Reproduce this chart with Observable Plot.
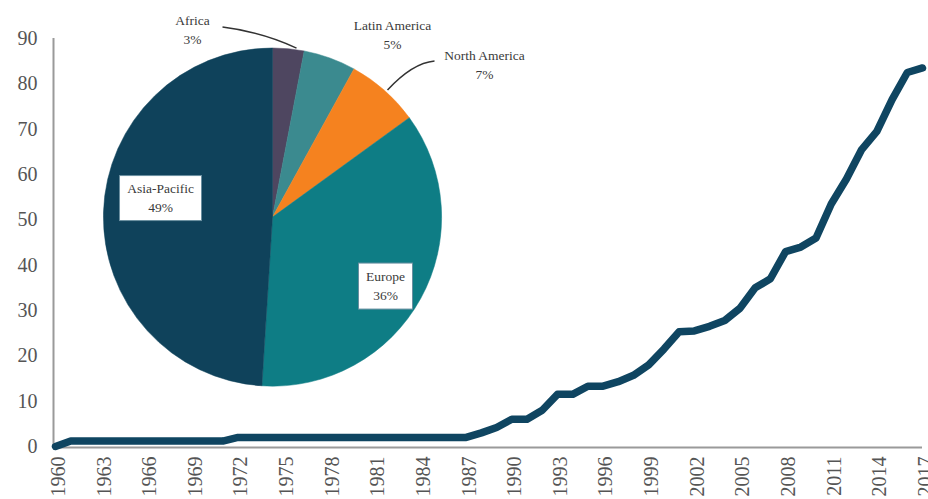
<!DOCTYPE html>
<html>
<head>
<meta charset="utf-8">
<script src="https://cdn.jsdelivr.net/npm/d3@7"></script>
<script src="https://cdn.jsdelivr.net/npm/@observablehq/plot@0.6"></script>
<style>
  html, body { margin: 0; padding: 0; background: #fff; }
</style>
</head>
<body>
<div id="chart"></div>
<script>
// ---- Data ----
const years = d3.range(1960, 2018);
const values = [
  0,
  1.2, 1.2, 1.2, 1.2, 1.2, 1.2, 1.2, 1.2, 1.2, 1.2, 1.2,
  2, 2, 2, 2, 2, 2, 2, 2, 2, 2, 2, 2, 2, 2, 2, 2,
  3, 4.2, 6, 6, 8, 11.5, 11.5, 13.3, 13.3, 14.3, 15.7, 18, 21.5, 25.3, 25.5, 26.5,
  27.8, 30.5, 35, 37, 43, 44, 46, 53.5, 59, 65.5, 69.5, 76.5, 82.5, 83.5
];
const xTicks = d3.range(1960, 2018, 3);
const yTicks = [0, 10, 20, 30, 40, 50, 60, 70, 80, 90];

const regions = ["Africa", "Latin America", "North America", "Europe", "Asia-Pacific"];
const regionShares = [3, 5, 7, 36, 49];
const regionColors = ["#4e4660", "#3b8a8f", "#f5821f", "#0e7d85", "#0f425b"];

// inset pie placement, in the line chart's data units
const pieCenter = { year: 1974.3, value: 50.5 };
const pieRadiusUnits = 37.3;

// label layout relative to pie center (px)
const pieLabels = [
  { name: "Africa", dx: -80, dy: -197, box: false },
  { name: "Latin America", dx: 120, dy: -192, box: false },
  { name: "North America", dx: 212, dy: -162, box: false },
  { name: "Europe", dx: 113, dy: 69, box: true, w: 54, h: 46 },
  { name: "Asia-Pacific", dx: -112, dy: -19, box: true, w: 82, h: 45 }
];

const rows = years.map((y, i) => ({ year: y, value: values[i] }));

const serif = "'Liberation Serif', 'DejaVu Serif', serif";

function pieMark(index, scales) {
  const { x, y } = scales;
  const cx = x(pieCenter.year), cy = y(pieCenter.value);
  const r = y(0) - y(pieRadiusUnits);
  const g = d3.create("svg:g").attr("transform", `translate(${cx},${cy})`);
  const arcs = d3.pie().sort(null).value(d => d)(regionShares);
  const arc = d3.arc().innerRadius(0).outerRadius(r);
  g.selectAll("path.slice").data(arcs).join("path")
    .attr("class", "slice")
    .attr("d", arc)
    .attr("fill", (d, i) => regionColors[i])
    .attr("stroke", (d, i) => regionColors[i])
    .attr("stroke-width", 0.5);

  // leader lines
  g.append("path")
    .attr("d", "M-50,-190 Q-10,-185 24,-169")
    .attr("fill", "none").attr("stroke", "#333").attr("stroke-width", 1.5);
  g.append("path")
    .attr("d", "M162,-156 Q140,-154 115,-127")
    .attr("fill", "none").attr("stroke", "#333").attr("stroke-width", 1.5);

  pieLabels.forEach(l => {
    const i = regions.indexOf(l.name);
    const lg = g.append("g").attr("transform", `translate(${l.dx},${l.dy})`);
    if (l.box) {
      lg.append("rect")
        .attr("x", -l.w / 2).attr("y", -l.h / 2)
        .attr("width", l.w).attr("height", l.h)
        .attr("fill", "#fff").attr("stroke", "#6a8fa0").attr("stroke-width", 1);
    }
    const t = lg.append("text")
      .attr("text-anchor", "middle")
      .attr("font-family", serif)
      .attr("font-size", 13.5)
      .attr("fill", "#3a3a3a");
    const off = l.box ? -10 : 0;
    t.append("tspan").attr("x", 0).attr("y", off).attr("dy", "0.35em").text(l.name);
    t.append("tspan").attr("x", 0).attr("y", off + 19).attr("dy", "0.35em").text(regionShares[i] + "%");
  });
  return g.node();
}

const hasAxisMarks = typeof Plot.axisX === "function";

const axisMarks = hasAxisMarks ? [
  Plot.axisX({
    ticks: xTicks, tickFormat: "d", tickRotate: -90, tickSize: 0, tickPadding: 10,
    dx: 3, fontSize: 20, fill: "#555", label: null
  }),
  Plot.axisY({
    ticks: yTicks, tickSize: 0, tickPadding: 18,
    fontSize: 20, fill: "#555", label: null
  })
] : [];

const chart = Plot.plot({
  width: 928,
  height: 499,
  marginLeft: 55,
  marginRight: 6,
  marginTop: 38,
  marginBottom: 53,
  style: { fontFamily: serif, fontSize: "20px", color: "#555", background: "#fff", overflow: "visible" },
  x: {
    domain: [1960, 2017],
    ticks: xTicks,
    tickFormat: "d",
    tickRotate: -90,
    tickSize: 0,
    tickPadding: 10,
    label: null
  },
  y: {
    domain: [0, 90],
    ticks: yTicks,
    tickSize: 0,
    tickPadding: 18,
    label: null
  },
  marks: [
    ...axisMarks,
    Plot.ruleY([0], { stroke: "#9a9a9a", strokeWidth: 2, dy: 1 }),
    Plot.ruleX([1960], { stroke: "#9a9a9a", strokeWidth: 2, dx: -2 }),
    pieMark,
    Plot.line(rows, {
      x: "year", y: "value",
      stroke: "#0f4561", strokeWidth: 7.5,
      strokeLinejoin: "round", strokeLinecap: "round"
    })
  ]
});
document.getElementById("chart").appendChild(chart);
</script>
</body>
</html>
